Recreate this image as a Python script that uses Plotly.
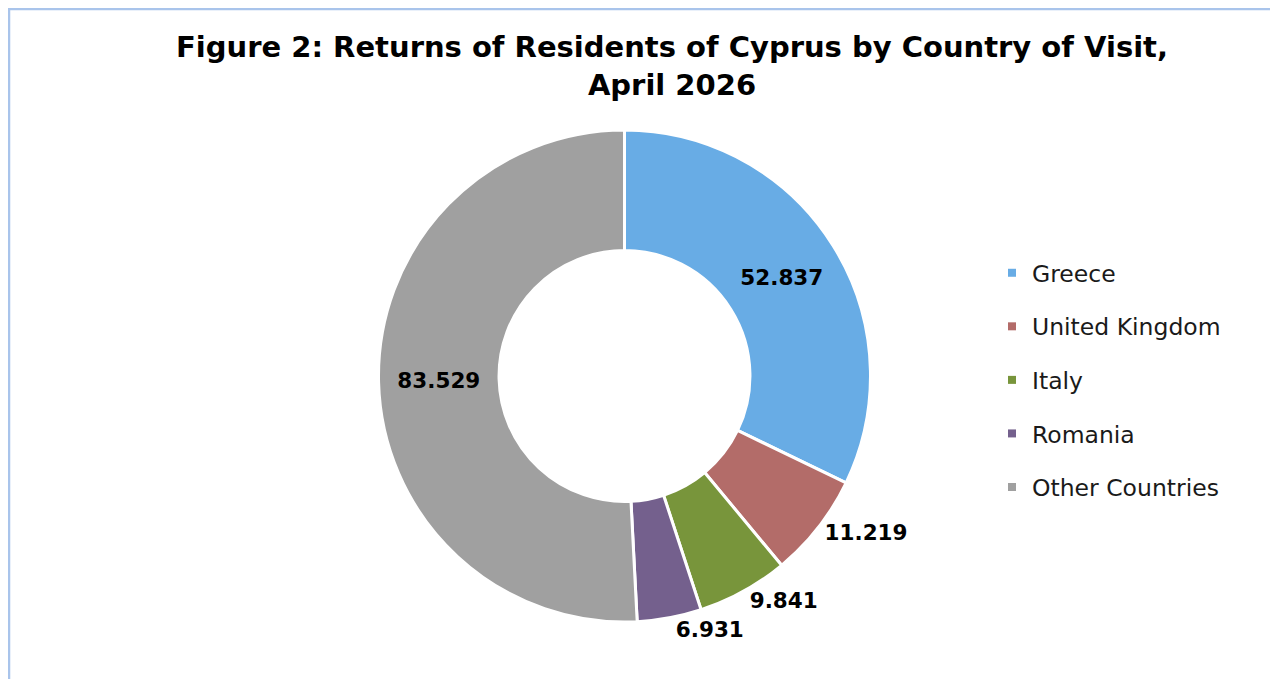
import plotly.graph_objects as go

countries = ["Greece", "United Kingdom", "Italy", "Romania", "Other Countries"]
values = [52837, 11219, 9841, 6931, 83529]
value_labels = ["52.837", "11.219", "9.841", "6.931", "83.529"]
colors = ["#68ACE5", "#B36C69", "#78953B", "#74608D", "#A0A0A0"]
text_pos = ["inside", "outside", "outside", "outside", "inside"]

# page body has an 8px margin: figure coordinates = page coordinates - 8
OFF = 8
W, H = 1270, 671
cx, cy, r = 624.5 - OFF, 376 - OFF, 246

fig = go.Figure()
fig.add_trace(go.Pie(
    labels=countries, values=values, text=value_labels,
    textinfo="text", textposition=text_pos,
    insidetextorientation="horizontal",
    textfont=dict(family="DejaVu Sans", size=21.5, color="black", weight="bold"),
    marker=dict(colors=colors, line=dict(color="white", width=3)),
    hole=0.51, sort=False, direction="clockwise", rotation=0,
    showlegend=False,
    domain=dict(x=[(cx - r) / W, (cx + r) / W], y=[(H - cy - r) / H, (H - cy + r) / H]),
))

for name, col in zip(countries, colors):
    fig.add_trace(go.Scatter(
        x=[None], y=[None], mode="markers", name=name, legendgroup=name,
        marker=dict(symbol="square", size=8, color=col), showlegend=True,
    ))

fig.update_layout(
    width=W, height=H,
    margin=dict(l=0, r=0, t=0, b=0),
    paper_bgcolor="white", plot_bgcolor="white",
    xaxis=dict(visible=False), yaxis=dict(visible=False),
    title=dict(
        text="<b>Figure 2: Returns of Residents of Cyprus by Country of Visit,<br>April 2026</b>",
        x=(672 - OFF) / W, xanchor="center", y=1 - (57 - OFF) / H, yanchor="top",
        font=dict(family="DejaVu Sans", size=29, color="black"),
    ),
    legend=dict(
        x=(1032 - 40 - OFF) / W, xanchor="left", y=1 - (380 - OFF) / H, yanchor="middle",
        font=dict(family="DejaVu Sans", size=23.5, color="#1a1a1a"),
        traceorder="grouped", tracegroupgap=20, bgcolor="rgba(0,0,0,0)",
    ),
    shapes=[dict(type="rect", xref="paper", yref="paper",
                 x0=1 / W, x1=(1276 - OFF) / W, y0=-0.05, y1=1 - 1 / H,
                 line=dict(color="#A9C4EB", width=2.5))],
)

fig.write_html("out.html")
